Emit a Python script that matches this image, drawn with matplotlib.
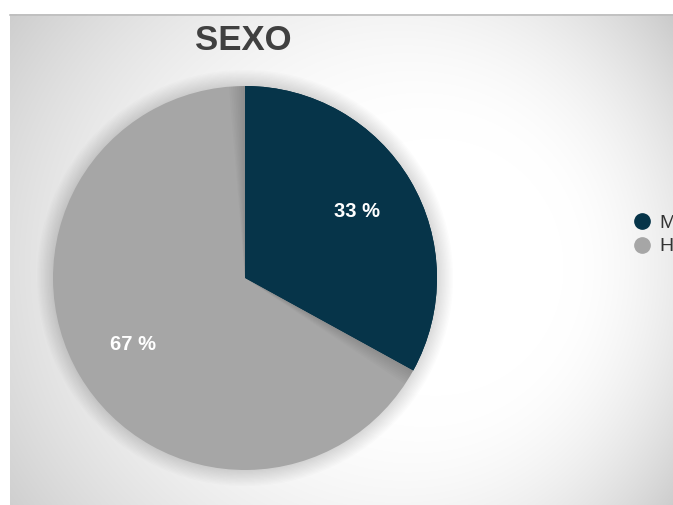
import numpy as np
import matplotlib
matplotlib.use("Agg")
import matplotlib.pyplot as plt
from matplotlib.patches import Wedge, Circle
from matplotlib.lines import Line2D

plt.rcParams['font.family'] = ['Liberation Sans', 'DejaVu Sans']

# Data
categories = ['M', 'H']
values = [33, 67]
colors = ['#063449', '#a6a6a6']
title = 'SEXO'

W, H = 673, 505
fig = plt.figure(figsize=(W / 100, H / 100), dpi=100)
fig.patch.set_facecolor('white')

# Background panel with an off-centre radial gradient
panel_l, panel_t = 10, 14
bg = fig.add_axes([panel_l / W, 0, (W - panel_l) / W, (H - panel_t) / H])
bg.set_axis_off()
ys, xs = np.mgrid[panel_t:H, panel_l:W].astype(float)
fx, fy = 480.0, 268.0      # focal point
cx, cy, R = 330.0, 265.0, 430.0   # outer circle
dx, dy = xs - fx, ys - fy
dist = np.hypot(dx, dy) + 1e-9
ux, uy = dx / dist, dy / dist
ox, oy = fx - cx, fy - cy
b = ux * ox + uy * oy
c = ox * ox + oy * oy - R * R
s = -b + np.sqrt(b * b - c)
t = np.clip(dist / s, 0, 1)
g = 255 - 55 * np.clip((t - 0.3) / 0.7, 0, 1) ** 1.75
img = np.dstack([g, g, g]) / 255.0
bg.imshow(img, extent=[0, 1, 0, 1], aspect='auto', interpolation='bilinear')
bg.set_xlim(0, 1)
bg.set_ylim(0, 1)
bg.plot([0, 1], [1 - 0.5 / (H - panel_t)] * 2, color='#bdbdbd', lw=1.2,
        transform=bg.transAxes, clip_on=False)

# Pie (axes padded so the soft shadow has room)
pcx, pcy, pr = 245, 278, 192
pad = 1.15
ax = fig.add_axes([(pcx - pr * pad) / W, (H - pcy - pr * pad) / H,
                   2 * pr * pad / W, 2 * pr * pad / H])
ax.set_axis_off()

wedges, texts, autotexts = ax.pie(
    values, colors=colors, startangle=90, counterclock=False,
    autopct=lambda p: f'{p:.0f} %', pctdistance=0.68,
    wedgeprops=dict(linewidth=0),
    textprops=dict(color='white', fontsize=14.5, fontweight='bold'))
for w in wedges:
    w.set_zorder(1)
for tx in autotexts:
    tx.set_zorder(5)

# soft shadow around the pie
for k in range(12):
    ax.add_patch(Circle((0, 0), 1 + 0.007 * (k + 1), facecolor='black',
                        alpha=0.010, lw=0, zorder=0))

# shadow cast by the dark slice onto the grey one
dark = wedges[0]
clip = Circle((0, 0), 1, transform=ax.transData)
for k in range(8):
    d = 0.6 * (k + 1)
    sh = Wedge((0, 0), 1, dark.theta1 - d, dark.theta2 + d, facecolor='black',
               alpha=0.015, lw=0, zorder=2)
    ax.add_patch(sh)
    sh.set_clip_path(clip)
d2 = Wedge((0, 0), 1, dark.theta1, dark.theta2, facecolor=colors[0], lw=0, zorder=3)
ax.add_patch(d2)
ax.set_xlim(-pad, pad)
ax.set_ylim(-pad, pad)
ax.set_aspect('equal')

fig.text(243 / W, 1 - 40 / H, title, ha='center', va='center',
         fontsize=25, fontweight='bold', color='#404040')

handles = [Line2D([], [], marker='o', ls='none', markersize=11,
                  markerfacecolor=col, markeredgecolor=col) for col in colors]
fig.legend(handles, categories, loc='center left',
           bbox_to_anchor=(624 / W, 1 - 235 / H), frameon=False,
           fontsize=14, labelcolor='#333333', handlelength=0.8,
           handletextpad=0.5, labelspacing=0.28, borderpad=0)

fig.savefig('out.png', dpi=100)
